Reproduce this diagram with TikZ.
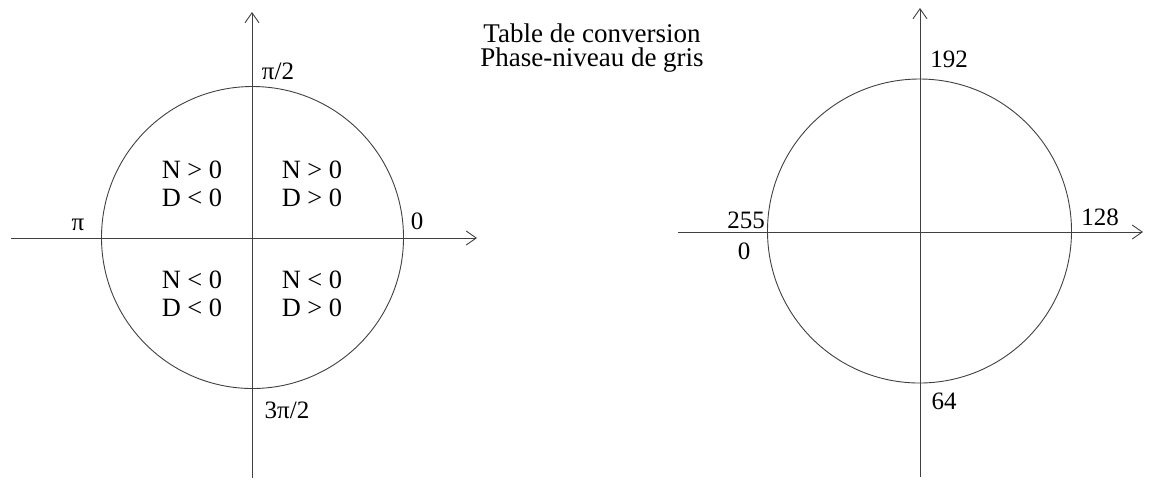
\documentclass[tikz,border=0pt]{standalone}
\usepackage{fontspec}
\setmainfont{Liberation Serif}
\usetikzlibrary{arrows.meta}
\begin{document}
\begin{tikzpicture}[
    x=0.5pt, y=-0.5pt,
    axis/.style={draw=black!75, line width=0.45pt, -{Straight Barb[length=5pt, width=7pt]}},
    ring/.style={draw=black!75, line width=0.45pt},
    every node/.style={inner sep=0pt, font=\fontsize{12.5}{14}\selectfont},
    quad/.style={align=center, font=\fontsize{13.2}{14}\selectfont},
]
\useasboundingbox (0,0) rectangle (1151,479);
% phase circle
\coordinate (Lo) at (252.5,237.5);
\coordinate (Lw) at (11,238);
\coordinate (Le) at (477,238);
\coordinate (Ls) at (252,478);
\coordinate (Ln) at (252,12);
\draw[axis] (Lw) -- (Le);
\draw[axis] (Ls) -- (Ln);
\draw[ring] (Lo) circle[radius=75.5pt];
\node (pihalf) at (278,71) {π/2};
\node (pi) at (78,225) {π};
\node (zero) at (417,221) {0};
\node (threepihalf) at (287,410) {3π/2};
\node[quad] (q2) at (192,184) {N > 0\\D < 0};
\node[quad] (q1) at (312,184) {N > 0\\D > 0};
\node[quad] (q3) at (192,294) {N < 0\\D < 0};
\node[quad] (q4) at (312,294) {N < 0\\D > 0};
% title
\node[align=center, font=\fontsize{13.5}{12}\selectfont] (title) at (592,48)
    {Table de conversion\\Phase-niveau de gris};
% grey level circle
\coordinate (Ro) at (919.5,231);
\coordinate (Rw) at (678,232);
\coordinate (Re) at (1143,232);
\coordinate (Rs) at (920,477);
\coordinate (Rn) at (920,8);
\draw[axis] (Rw) -- (Re);
\draw[axis] (Rs) -- (Rn);
\draw[ring] (Ro) circle[radius=76pt];
\node (g192) at (949,59) {192};
\node (g255) at (746,220) {255};
\node (g0) at (744,251) {0};
\node (g128) at (1100,217) {128};
\node (g64) at (944,401) {64};
\end{tikzpicture}
\end{document}
